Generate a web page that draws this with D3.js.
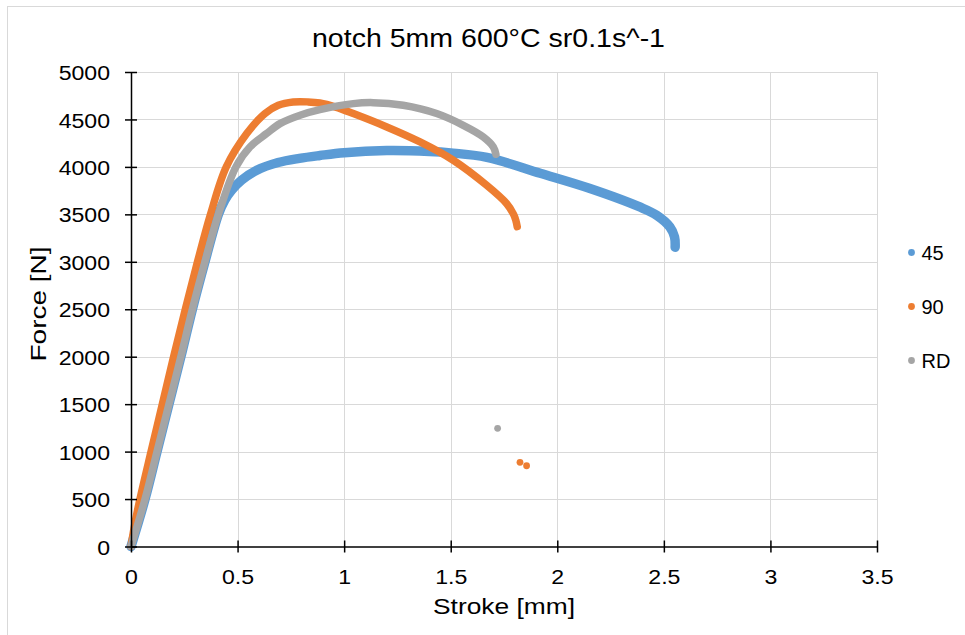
<!DOCTYPE html>
<html>
<head>
<meta charset="utf-8">
<script src="https://cdn.jsdelivr.net/npm/d3@7"></script>
<style>
  html, body { margin: 0; padding: 0; background: #fff; }
  svg { display: block; font-family: "Liberation Sans", Arial, sans-serif; }
</style>
</head>
<body>
<svg id="chart" width="965" height="635"></svg>
<script>
// Tensile test, notched specimen 5 mm, 600 °C, strain rate 0.1 s^-1
const title = "notch 5mm 600°C sr0.1s^-1";
const xLabel = "Stroke [mm]";
const yLabel = "Force [N]";

const xTicks = [0, 0.5, 1, 1.5, 2, 2.5, 3, 3.5];
const yTicks = [0, 500, 1000, 1500, 2000, 2500, 3000, 3500, 4000, 4500, 5000];

const seriesNames = ["45", "90", "RD"];
const seriesColors = ["#5B9BD5", "#ED7D31", "#A5A5A5"];

// 45° specimen
const stroke45 = [0, 0.066, 0.122, 0.178, 0.234, 0.288, 0.347, 0.41, 0.44, 0.472, 0.519, 0.59, 0.69, 0.79, 0.886, 1.0, 1.2, 1.4, 1.5, 1.67, 1.92, 2.15, 2.39, 2.466, 2.528, 2.55, 2.553];
const force45  = [0, 500, 1000, 1500, 2000, 2500, 3000, 3500, 3650, 3754, 3860, 3965, 4046, 4090, 4120, 4150, 4172, 4163, 4148, 4100, 3933, 3775, 3575, 3491, 3368, 3262, 3154];
const stroke45Tail = [];
const force45Tail  = [];

// 90° specimen
const stroke90 = [0, 0.019, 0.042, 0.094, 0.147, 0.2, 0.255, 0.312, 0.373, 0.447, 0.543, 0.628, 0.691, 0.761, 0.83, 0.886, 0.96, 1.043, 1.2, 1.356, 1.512, 1.668, 1.762, 1.795, 1.805, 1.812];
const force90  = [0, 250, 500, 1000, 1500, 2000, 2500, 3000, 3500, 4000, 4351, 4562, 4649, 4684, 4685, 4673, 4630, 4562, 4421, 4263, 4070, 3807, 3614, 3500, 3440, 3370];
const stroke90Tail = [1.825, 1.856];
const force90Tail  = [887, 851];

// rolling direction
const strokeRD = [0, 0.066, 0.122, 0.178, 0.234, 0.288, 0.347, 0.41, 0.492, 0.558, 0.636, 0.699, 0.8, 0.886, 1.043, 1.137, 1.277, 1.434, 1.559, 1.653, 1.7, 1.712];
const forceRD  = [0, 500, 1000, 1500, 2000, 2500, 3000, 3500, 4000, 4210, 4351, 4456, 4550, 4604, 4667, 4677, 4649, 4562, 4438, 4315, 4210, 4133];
const strokeRDTail = [1.72];
const forceRDTail  = [1245];

const series = [
  { name: seriesNames[0], color: seriesColors[0], x: stroke45, y: force45, tx: stroke45Tail, ty: force45Tail, width: 9.5 },
  { name: seriesNames[1], color: seriesColors[1], x: stroke90, y: force90, tx: stroke90Tail, ty: force90Tail, width: 7.5 },
  { name: seriesNames[2], color: seriesColors[2], x: strokeRD, y: forceRD, tx: strokeRDTail, ty: forceRDTail, width: 7.5 }
];

const svg = d3.select("#chart");
const FONT = "Liberation Sans, Arial, sans-serif";

// chart area frame
svg.append("rect")
  .attr("x", 7.5).attr("y", 6.5)
  .attr("width", 1000).attr("height", 700)
  .attr("fill", "#fff").attr("stroke", "#d9d9d9").attr("stroke-width", 1);

const plot = { left: 131, right: 877, top: 72, bottom: 546.5 };

const x = d3.scaleLinear().domain([0, 3.5]).range([plot.left, plot.right]);
const y = d3.scaleLinear().domain([0, 5000]).range([plot.bottom, plot.top]);

// gridlines
const grid = svg.append("g").attr("stroke", "#d9d9d9").attr("stroke-width", 1);
grid.selectAll("line.h").data(yTicks.filter(d => d > 0)).join("line")
  .attr("x1", plot.left).attr("x2", plot.right)
  .attr("y1", d => Math.round(y(d)) + 0.5).attr("y2", d => Math.round(y(d)) + 0.5);
grid.selectAll("line.v").data(xTicks.filter(d => d > 0)).join("line")
  .attr("x1", d => Math.round(x(d)) + 0.5).attr("x2", d => Math.round(x(d)) + 0.5)
  .attr("y1", plot.top).attr("y2", plot.bottom);

// series curves
const line = (s) => d3.line()
  .x((d, i) => x(s.x[i]))
  .y((d, i) => y(s.y[i]))
  .curve(d3.curveCatmullRom.alpha(0.5))(s.x);

const marks = svg.append("g");
series.forEach(s => {
  marks.append("path")
    .attr("d", line(s))
    .attr("fill", "none")
    .attr("stroke", s.color)
    .attr("stroke-width", s.width)
    .attr("stroke-linecap", "round")
    .attr("stroke-linejoin", "round");
  marks.selectAll(null).data(s.tx).join("circle")
    .attr("cx", (d, i) => x(s.tx[i]))
    .attr("cy", (d, i) => y(s.ty[i]))
    .attr("r", 3.4)
    .attr("fill", s.color);
});

// axes
const tickFont = 21;
const tickStretch = 1.1;

const xAxis = svg.append("g").attr("transform", `translate(0,${plot.bottom})`)
  .call(d3.axisBottom(x).tickValues(xTicks).tickFormat(d3.format("")).tickSize(0));
xAxis.select(".domain").attr("stroke", "#000").attr("stroke-width", 1.5);
xAxis.selectAll(".tick line").remove();
xAxis.selectAll(".tick").append("line").attr("y1", -6).attr("y2", 6).attr("stroke", "#000").attr("stroke-width", 1.5);
xAxis.selectAll("text")
  .attr("y", 0).attr("dy", null)
  .attr("transform", `translate(0,37) scale(${tickStretch},1)`)
  .attr("font-size", tickFont).attr("fill", "#000").attr("font-family", FONT);

const yAxis = svg.append("g").attr("transform", `translate(${plot.left},0)`)
  .call(d3.axisLeft(y).tickValues(yTicks).tickFormat(d3.format("d")).tickSize(0));
yAxis.select(".domain").attr("stroke", "#000").attr("stroke-width", 1.5);
yAxis.selectAll(".tick line").remove();
yAxis.selectAll(".tick").append("line").attr("x1", -6).attr("x2", 6).attr("stroke", "#000").attr("stroke-width", 1.5);
yAxis.selectAll("text")
  .attr("x", 0).attr("dy", "0.36em")
  .attr("transform", `translate(-21,0) scale(${tickStretch},1)`)
  .attr("font-size", tickFont).attr("fill", "#000").attr("font-family", FONT);

// titles
svg.append("text").attr("x", 488.5).attr("y", 47)
  .attr("text-anchor", "middle").attr("font-size", 25).attr("fill", "#000")
  .attr("textLength", 353).attr("lengthAdjust", "spacingAndGlyphs")
  .text(title);
svg.append("text").attr("x", 504).attr("y", 614)
  .attr("text-anchor", "middle").attr("font-size", 22).attr("fill", "#000")
  .attr("textLength", 142).attr("lengthAdjust", "spacingAndGlyphs")
  .text(xLabel);
svg.append("text").attr("transform", "translate(45.5,304) rotate(-90)")
  .attr("text-anchor", "middle").attr("font-size", 22).attr("fill", "#000")
  .attr("textLength", 115).attr("lengthAdjust", "spacingAndGlyphs")
  .text(yLabel);

// legend
const legend = svg.append("g");
series.forEach((s, i) => {
  const ly = 252.5 + i * 54;
  legend.append("circle").attr("cx", 911.5).attr("cy", ly).attr("r", 3.4).attr("fill", s.color);
  legend.append("text").attr("x", 921.5).attr("y", ly + 7.5)
    .attr("font-size", 20).attr("fill", "#000").text(s.name);
});
</script>
</body>
</html>
